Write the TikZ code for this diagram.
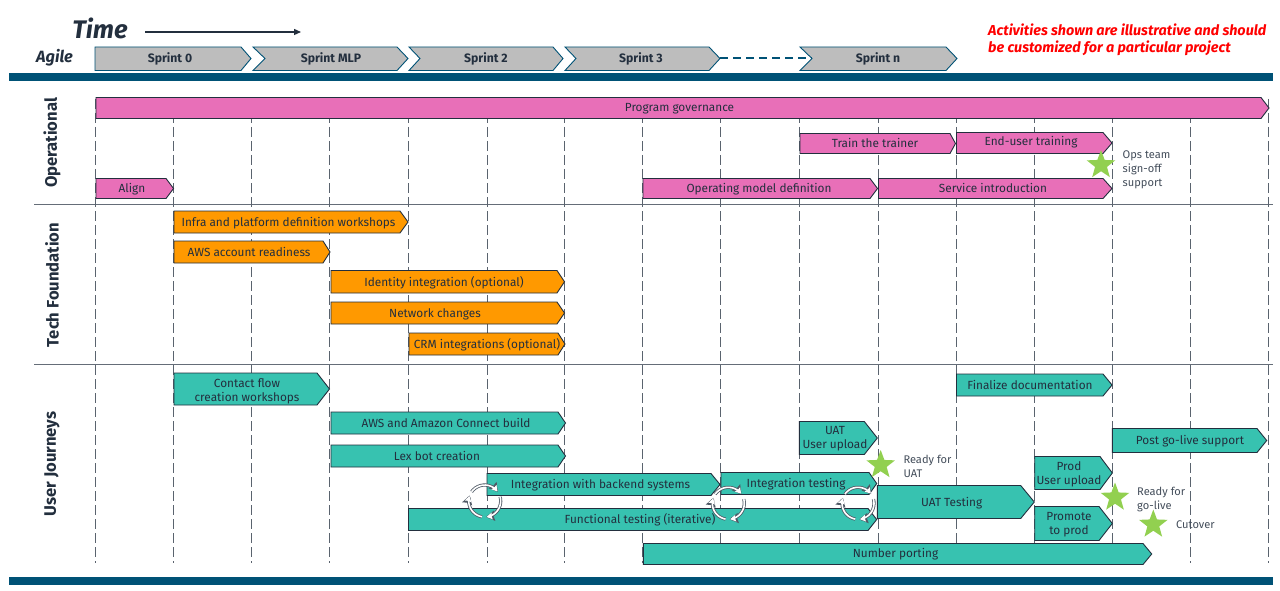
\documentclass[tikz,border=0pt]{standalone}
\usepackage{fontspec}
\setmainfont{Fira Sans}
\usetikzlibrary{arrows.meta,shapes.geometric}
\definecolor{ink}{HTML}{232F3E}
\definecolor{band}{HTML}{005276}
\definecolor{pinkbar}{HTML}{E86FB8}
\definecolor{orangebar}{HTML}{FF9900}
\definecolor{tealbar}{HTML}{37C2B0}
\definecolor{sprintgray}{HTML}{BDBDBD}
\definecolor{stargreen}{HTML}{92D050}
\tikzset{
  x=1pt,y=-1pt,
  barlabel/.style={text=ink,font=\fontsize{11.8}{14}\selectfont,align=center,inner sep=0pt,yshift=-0.7pt},
  note/.style={text=ink!85,font=\fontsize{11.1}{14}\selectfont,align=left,inner sep=0pt,anchor=west},
  sprintlabel/.style={text=ink,font=\bfseries\fontsize{12.2}{14}\selectfont,inner sep=0pt},
  swim/.style={text=ink,font=\fontsize{16.6}{18}\selectfont\bfseries,rotate=90,inner sep=0pt},
  pinkstyle/.style={draw=ink,fill=pinkbar,line width=0.9pt,line join=miter},
  orangestyle/.style={draw=ink,fill=orangebar,line width=0.9pt},
  tealstyle/.style={draw=ink,fill=tealbar,line width=0.9pt},
  sprintstyle/.style={draw=band,fill=sprintgray,line width=0.9pt},
  gridline/.style={draw=ink!75,line width=0.8pt,dash pattern=on 10pt off 4pt},
  sepline/.style={draw=ink!70,line width=0.9pt},
  starshape/.style={star,star points=5,star point ratio=2.4,fill=stargreen,minimum size=30pt,inner sep=0pt},
  cyclearc/.style={line width=3.2pt,draw=ink!80,-{Stealth[length=8.5pt,width=10pt,inset=1pt]}},
  cycleinner/.style={line width=1.6pt,draw=white,-{Stealth[length=5.5pt,width=6.5pt,inset=0.6pt]}},
}
\newcommand\gbar[8]{%
  \path[#7] (#2,#5) -- (#3,#5) -- (#4,{(#5+#6)/2}) -- (#3,#6) -- (#2,#6) -- cycle;
  \gtext{#1}{#8}}
\newcommand\gtext[2]{\node[barlabel] (#1) at #2;}
\newcommand\cyclemark[3]{%
  \foreach \s/\e in {145/35,15/-85,-100/-200}{%
    \draw[cyclearc,domain=\s:\e,samples=12,smooth,variable=\t] plot ({#1+#3*cos(\t)},{#2-#3*sin(\t)});
    \draw[cycleinner,domain=\s:(\e+2),samples=12,smooth,variable=\t] plot ({#1+#3*cos(\t)},{#2-#3*sin(\t)});
  }}
\begin{document}
\begin{tikzpicture}
\useasboundingbox (0,0) rectangle (1280,591);
\fill[white] (0,0) rectangle (1280,591);
% title row
\node[text=ink,font=\bfseries\itshape\fontsize{25.4}{28}\selectfont,inner sep=0pt] (timelabel) at (100,28) {Time};
\coordinate (timestart) at (145,32);
\coordinate (timeend) at (301,32);
\draw[ink,line width=1.3pt,-{Triangle[length=7pt,width=6pt]}] (timestart) -- (timeend);
\node[text=ink,font=\bfseries\itshape\fontsize{16.3}{18}\selectfont,inner sep=0pt] (agile) at (54.5,58) {Agile};
\node[text=red,font=\bfseries\itshape\fontsize{14.4}{16.5}\selectfont,align=left,inner sep=0pt,anchor=west] (disclaimer) at (988,40) {Activities shown are illustrative and should\\be customized for a particular project};
% sprints
\path[sprintstyle] (95,47) -- (241,47) -- (251,58.5) -- (241,70.5) -- (95,70.5) -- cycle;
\node[sprintlabel] (s0) at (170,58.7) {Sprint 0};
\path[sprintstyle] (253,47) -- (397,47) -- (408,58.5) -- (397,70.5) -- (253,70.5) -- (265,58.5) -- cycle;
\node[sprintlabel] (s1) at (331,58.7) {Sprint MLP};
\path[sprintstyle] (409,47) -- (553,47) -- (563,58.5) -- (553,70.5) -- (409,70.5) -- (420,58.5) -- cycle;
\node[sprintlabel] (s2) at (486,58.7) {Sprint 2};
\path[sprintstyle] (565,47) -- (709,47) -- (720,58.5) -- (709,70.5) -- (565,70.5) -- (576,58.5) -- cycle;
\coordinate (s3end) at (720,58);
\node[sprintlabel] (s3) at (641,58.7) {Sprint 3};
\path[sprintstyle] (800,47) -- (946,47) -- (957,58.5) -- (946,70.5) -- (800,70.5) -- (812,58.5) -- cycle;
\coordinate (snstart) at (812,58);
\node[sprintlabel] (sn) at (878,58.7) {Sprint n};
\draw[band,line width=1.8pt,dash pattern=on 8pt off 5pt] (s3end) -- (snstart);
% bands and separators
\fill[band] (9,73) rectangle (1273,81);
\fill[band] (9,577) rectangle (1273,585);
\draw[sepline] (34,204.5) -- (1273,204.5);
\draw[sepline] (34,364) -- (1273,364);
% grid
\foreach \x in {95.5,173.5,251.5,329.5,408,487,564,642.5,720.5,799,878,956,1034,1112,1190,1268}{
  \draw[gridline] (\x,99) -- (\x,563);
}
% swimlane labels
\node[swim] (op) at (52,143) {Operational};
\node[swim] (tf) at (52,285) {Tech Foundation};
\node[swim] (uj) at (52,464) {User Journeys};
% operational
\gbar{pg}{96}{1261}{1269}{97.5}{118.5}{pinkstyle}{(679.5,107.6) {Program governance}}
\gbar{al}{96}{166}{173.5}{178.5}{198.5}{pinkstyle}{(132,188) {Align}}
\gbar{tt}{800}{950}{955.5}{133.5}{153.5}{pinkstyle}{(875,142.4) {Train the trainer}}
\gbar{eu}{956.5}{1103}{1112}{132.5}{153.5}{pinkstyle}{(1031,141.5) {End-user training}}
\gbar{om}{643}{870}{877.5}{178.5}{198.5}{pinkstyle}{(759,188) {Operating model definition}}
\gbar{si}{878.5}{1103}{1112}{178.5}{198.5}{pinkstyle}{(993,187.4) {Service introduction}}
\node[starshape] (st1) at (1101,165) {};
\node[note] (opsnote) at (1122.5,170.2) {Ops team\\sign-off\\support};
% tech foundation
\gbar{ip}{174}{400}{408}{211}{233}{orangestyle}{(288.5,222) {Infra and platform definition workshops}}
\gbar{ac}{174}{323}{330}{241}{263}{orangestyle}{(249,251.4) {AWS account readiness}}
\gbar{id}{331}{557}{564.5}{270.5}{293}{orangestyle}{(444,282) {Identity integration (optional)}}
\gbar{nc}{331}{557}{564.5}{302}{324}{orangestyle}{(435,313.6) {Network changes}}
\gbar{cr}{409}{558}{565}{333}{355}{orangestyle}{(487,344) {CRM integrations (optional)}}
% user journeys
\gbar{cf}{174}{317}{329.5}{373}{405}{tealstyle}{(247,391) {Contact flow\\creation workshops}}
\gbar{fd}{956.5}{1103}{1112}{374}{396}{tealstyle}{(1030,384.4) {Finalize documentation}}
\gbar{ab}{331}{558}{565.5}{412}{434}{tealstyle}{(446,422.4) {AWS and Amazon Connect build}}
\gbar{lx}{331}{558}{565.5}{445}{467}{tealstyle}{(437,455.4) {Lex bot creation}}
\gbar{ft}{408.5}{868}{876.7}{508.5}{530.5}{tealstyle}{(640,519) {Functional testing (iterative)}}
\gbar{ib}{487}{711}{720}{473.5}{495.5}{tealstyle}{(600.5,484) {Integration with backend systems}}
\gbar{it}{721}{869}{876.7}{472.5}{494.5}{tealstyle}{(796,483) {Integration testing}}
\gbar{np}{643.3}{1143}{1151.7}{543.5}{564.5}{tealstyle}{(895.5,553) {Number porting}}
\gbar{uu}{799.3}{864.3}{877.3}{421.5}{454.5}{tealstyle}{(835,437.5) {UAT\\User upload}}
\gbar{ut}{877.3}{1020.7}{1034.3}{485.5}{518.5}{tealstyle}{(951.7,502) {UAT Testing}}
\gbar{pu}{1034.7}{1100}{1112.3}{456.5}{489.5}{tealstyle}{(1069,474) {Prod\\User upload}}
\gbar{pp}{1034.7}{1099}{1112.3}{506.5}{540.5}{tealstyle}{(1069,524) {Promote\\to prod}}
\gbar{pg2}{1112.3}{1257}{1266.7}{428.5}{452.5}{tealstyle}{(1190,440) {Post go-live support}}
% cycles
\cyclemark{484.7}{501}{16}
\cyclemark{728.3}{503.3}{16}
\cyclemark{858}{503.3}{16}
% milestones
\node[starshape] (st2) at (880.7,465) {};
\node[note] (n2) at (903.3,466) {Ready for\\UAT};
\node[starshape] (st3) at (1115,497.5) {};
\node[note] (n3) at (1137,499.3) {Ready for\\go-live};
\node[starshape] (st4) at (1153.3,524.5) {};
\node[note] (n4) at (1176,525) {Cutover};
\end{tikzpicture}
\end{document}
